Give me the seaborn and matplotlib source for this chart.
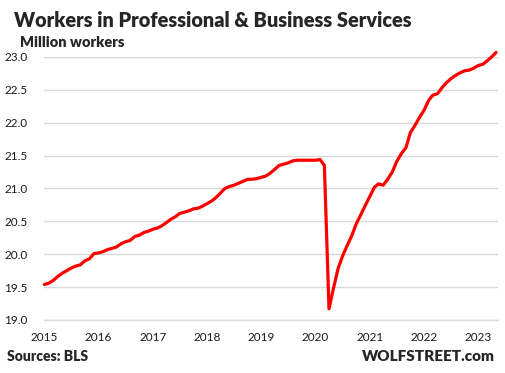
import pandas as pd
import matplotlib.pyplot as plt
import seaborn as sns

# -----------------------------
# Data
# -----------------------------
first_month = "2015-01"
last_month = "2023-05"
workers_millions = [
    19.54, 19.56, 19.60, 19.66, 19.71, 19.75, 19.79, 19.82, 19.84, 19.90, 19.93, 20.01,  # 2015
    20.02, 20.04, 20.07, 20.09, 20.11, 20.16, 20.19, 20.21, 20.27, 20.29, 20.33, 20.35,  # 2016
    20.38, 20.40, 20.43, 20.48, 20.53, 20.57, 20.62, 20.64, 20.66, 20.69, 20.70, 20.73,  # 2017
    20.77, 20.81, 20.86, 20.93, 21.00, 21.03, 21.05, 21.08, 21.11, 21.14, 21.14, 21.15,  # 2018
    21.17, 21.19, 21.23, 21.29, 21.35, 21.37, 21.39, 21.42, 21.43, 21.43, 21.43, 21.43,  # 2019
    21.43, 21.44, 21.35, 19.17, 19.48, 19.78, 19.97, 20.13, 20.28, 20.46, 20.60, 20.74,  # 2020
    20.88, 21.02, 21.07, 21.05, 21.14, 21.25, 21.41, 21.53, 21.62, 21.85, 21.96, 22.08,  # 2021
    22.19, 22.34, 22.42, 22.44, 22.53, 22.61, 22.67, 22.72, 22.76, 22.79, 22.80, 22.83,  # 2022
    22.87, 22.89, 22.94, 23.00, 23.07,                                                   # 2023
]
year_ticks = [2015, 2016, 2017, 2018, 2019, 2020, 2021, 2022, 2023]
y_ticks = [19.0, 19.5, 20.0, 20.5, 21.0, 21.5, 22.0, 22.5, 23.0]

df = pd.DataFrame({
    "month": pd.date_range(first_month, last_month, freq="MS"),
    "workers": workers_millions,
})

# -----------------------------
# Plot
# -----------------------------
sns.set_style("white")
plt.rcParams["font.family"] = ["Lato", "DejaVu Sans"]

fig = plt.figure(figsize=(5.06, 3.73), dpi=100)
ax = fig.add_axes([0.0875, 0.1421, 0.8961, 0.7051])

sns.lineplot(data=df, x="month", y="workers", ax=ax, color="#ff0000",
             linewidth=2.3, clip_on=False, zorder=3)

ax.set_ylim(19.0, 23.0)
ax.set_yticks(y_ticks)
ax.set_yticklabels([f"{v:.1f}" for v in y_ticks])
ax.set_xlim(pd.Timestamp("2015-01-01"), pd.Timestamp("2023-05-12"))
ax.set_xticks([pd.Timestamp(f"{y}-01-01") for y in year_ticks])
ax.set_xticklabels([str(y) for y in year_ticks])

ax.grid(axis="y", color="#d9d9d9", linewidth=1.0)
ax.grid(axis="x", visible=False)
for side in ["top", "right", "left"]:
    ax.spines[side].set_visible(False)
ax.spines["bottom"].set_color("#d9d9d9")
ax.spines["bottom"].set_linewidth(1.0)

ax.tick_params(axis="y", length=0, pad=12, labelsize=8.5, labelcolor="#1a1a1a")
ax.tick_params(axis="x", length=4, width=1.0, color="#d9d9d9", direction="out",
               pad=5, labelsize=8.5, labelcolor="#1a1a1a")
ax.set_xlabel("")
ax.set_ylabel("")

# titles and footer
fig.text(14 / 506, 1 - 27 / 373, "Workers in Professional & Business Services",
         fontsize=14.3, fontweight="heavy", ha="left", va="baseline")
fig.text(20 / 506, 1 - 47 / 373, "Million workers",
         fontsize=10.5, fontweight="heavy", ha="left", va="baseline")
fig.text(7 / 506, 1 - 361 / 373, "Sources: BLS",
         fontsize=10, fontweight="heavy", ha="left", va="baseline")
fig.text(495 / 506, 1 - 361 / 373, "WOLFSTREET.com",
         fontsize=11, fontweight="heavy", ha="right", va="baseline")

fig.savefig("out.png", dpi=100)
